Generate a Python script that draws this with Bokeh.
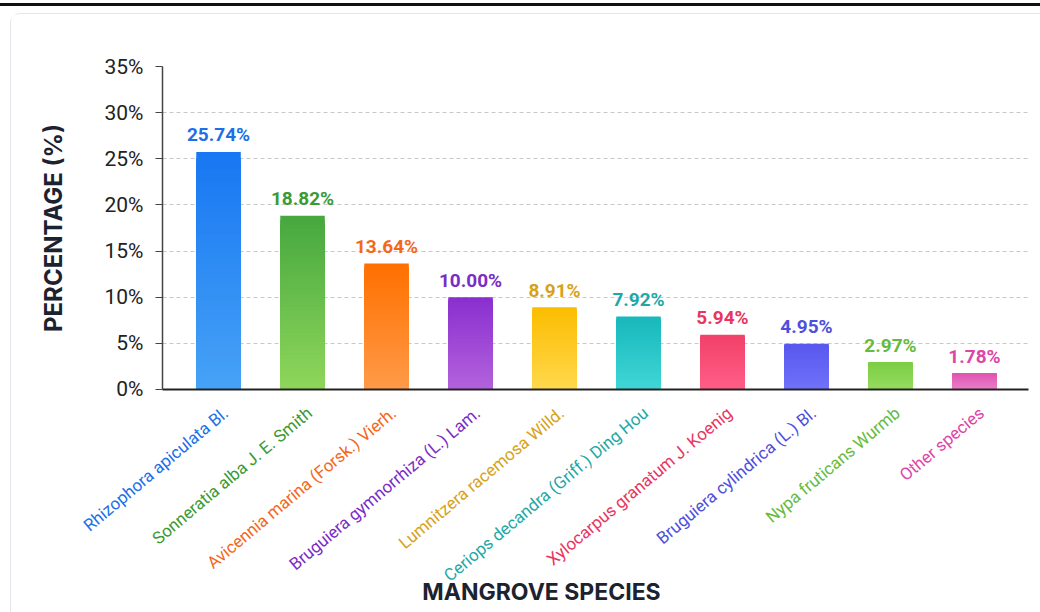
import numpy as np
from bokeh.plotting import figure
from bokeh.layouts import column
from bokeh.models import (ColumnDataSource, Range1d, Div, PrintfTickFormatter,
                          FixedTicker)
from bokeh.core.properties import value
from bokeh.embed import file_html
from bokeh.resources import INLINE

# Mangrove species composition (percentage of individuals)
species = [
    "Rhizophora apiculata Bl.",
    "Sonneratia alba J. E. Smith",
    "Avicennia marina (Forsk.) Vierh.",
    "Bruguiera gymnorrhiza (L.) Lam.",
    "Lumnitzera racemosa Willd.",
    "Ceriops decandra (Griff.) Ding Hou",
    "Xylocarpus granatum J. Koenig",
    "Bruguiera cylindrica (L.) Bl.",
    "Nypa fruticans Wurmb",
    "Other species",
]
percent = [25.74, 18.82, 13.64, 10.00, 8.91, 7.92, 5.94, 4.95, 2.97, 1.78]
y_ticks = [0, 5, 10, 15, 20, 25, 30, 35]

# per-species styling: gradient top colour, gradient bottom colour, text colour
grad_top = ["#1877f2", "#47a83f", "#ff7000", "#8a2fcf", "#fbbd00",
            "#18b8bb", "#f2416a", "#5858ee", "#7ccd45", "#dd55b0"]
grad_bottom = ["#46a2f6", "#8ed65b", "#ff9a48", "#b262dc", "#ffd84d",
               "#40d6d6", "#ff5e86", "#7072fa", "#96db5f", "#ec7ec9"]
text_color = ["#1c6fe8", "#3a9a34", "#f4671c", "#7b2cc7", "#d6a21a",
              "#1fa8a6", "#e8365f", "#4e4fdc", "#66bb3e", "#de46a6"]

# ---- page geometry (pixels) ----
PAGE_W, PAGE_H = 1040, 612
CARD_X, CARD_Y = 10, 13          # card's top-left corner
INNER_X, INNER_Y = CARD_X + 1, CARD_Y + 1
FRAME_L, FRAME_R = 162, 1028     # plot frame edges on the page
FRAME_T, FRAME_B = 66, 389
AXIS_ROOM = 11                   # space kept under the frame for axis + "0%"
TOP_H = FRAME_B - INNER_Y + AXIS_ROOM
BOT_H = PAGE_H - INNER_Y - TOP_H
FIG_W = PAGE_W - INNER_X

# category slots: index positions, with some slack at both ends
pos = np.arange(len(species))
X_LO, X_HI = -0.667, len(species) - 1 + 0.643
PX_PER_UNIT = (FRAME_R - FRAME_L) / (X_HI - X_LO)

top = figure(
    x_range=Range1d(X_LO, X_HI), y_range=Range1d(0, 35),
    width=FIG_W, height=TOP_H,
    output_backend="svg", toolbar_location=None,
    min_border_left=FRAME_L - INNER_X, min_border_right=PAGE_W - FRAME_R,
    min_border_top=FRAME_T - INNER_Y, min_border_bottom=AXIS_ROOM,
)
top.frame_align = False
top.background_fill_color = "white"
top.border_fill_color = "white"
top.outline_line_color = None

# bars: overlapping, progressively shorter bars give a top-to-bottom gradient
N = 40
def lerp_hex(c1, c2, t):
    a = np.array([int(c1[i:i + 2], 16) for i in (1, 3, 5)], dtype=float)
    b = np.array([int(c2[i:i + 2], 16) for i in (1, 3, 5)], dtype=float)
    c = np.round(a + (b - a) * t).astype(int)
    return "#%02x%02x%02x" % tuple(c)

xs, tops, cols = [], [], []
for k in range(N):
    frac = (N - k) / N
    for x, val, ct, cb in zip(pos, percent, grad_top, grad_bottom):
        xs.append(x)
        tops.append(val * frac)
        cols.append(lerp_hex(ct, cb, k / (N - 1)))
bars = ColumnDataSource(dict(x=xs, top=tops, color=cols))
top.vbar(x="x", top="top", bottom=0, width=0.53, source=bars,
         fill_color="color", line_color=None)

src = ColumnDataSource(dict(
    x=pos, y=percent, name=species,
    label=["%.2f%%" % v for v in percent], color=text_color,
))

# value labels above bars
top.text(x="x", y="y", text="label", source=src, text_color="color",
         text_font=value("Roboto"), text_font_size="19px",
         text_font_style="bold", text_align="center",
         text_baseline="alphabetic", y_offset=-17)

# grid
top.xgrid.grid_line_color = None
top.ygrid.ticker = FixedTicker(ticks=y_ticks)
top.ygrid.grid_line_color = "#c8c8c8"
top.ygrid.grid_line_dash = "4 3"
top.ygrid.grid_line_width = 1

# y axis
top.yaxis.ticker = FixedTicker(ticks=y_ticks)
top.yaxis.formatter = PrintfTickFormatter(format="%d%%")
top.yaxis.axis_line_color = "#444444"
top.yaxis.axis_line_width = 1.5
top.yaxis.major_tick_line_color = "#444444"
top.yaxis.major_tick_out = 7
top.yaxis.major_tick_in = 0
top.yaxis.minor_tick_line_color = None
top.yaxis.major_label_text_font = "Roboto"
top.yaxis.major_label_text_font_size = "21px"
top.yaxis.major_label_text_color = "#222222"
top.yaxis.major_label_standoff = 12
top.yaxis.axis_label = "PERCENTAGE (%)"
top.yaxis.axis_label_text_font = "Inter"
top.yaxis.axis_label_text_font_size = "24px"
top.yaxis.axis_label_text_font_style = "bold"
top.yaxis.axis_label_text_color = "#1c2230"
top.yaxis.axis_label_standoff = 34

# x axis: only its line, names are set underneath
top.xaxis.ticker = FixedTicker(ticks=[])
top.xaxis.axis_line_color = "#222222"
top.xaxis.axis_line_width = 2
top.xaxis.major_tick_line_color = None
top.xaxis.minor_tick_line_color = None
top.xaxis.major_label_text_font_size = "0px"
top.xaxis.major_label_standoff = 0

# lower strip: rotated species names and the axis title, same x scale
B_LO = X_LO - (FRAME_L - INNER_X) / PX_PER_UNIT
B_HI = X_HI + (PAGE_W - FRAME_R) / PX_PER_UNIT
bottom = figure(
    x_range=Range1d(B_LO, B_HI), y_range=Range1d(0, BOT_H),
    width=FIG_W, height=BOT_H,
    output_backend="svg", toolbar_location=None,
    x_axis_type=None, y_axis_type=None, min_border=0,
)
bottom.frame_align = False
bottom.background_fill_color = "white"
bottom.border_fill_color = "white"
bottom.outline_line_color = None
bottom.grid.visible = False

# anchor of the names (right end, mid-height), measured from the strip's top
NAME_DROP = 21 - AXIS_ROOM
bottom.text(x="x", y=BOT_H - NAME_DROP, text="name", source=src,
            text_color="color", text_font=value("Roboto"),
            text_font_size="17px", angle=np.deg2rad(40),
            text_align="right", text_baseline="middle", x_offset=7)

TITLE_CX = 541                   # page x of the axis title's centre
TITLE_CY = 591
bottom.text(x=[B_LO + (TITLE_CX - INNER_X) / PX_PER_UNIT],
            y=[PAGE_H - TITLE_CY], text=["MANGROVE SPECIES"],
            text_color="#1c2230", text_font=value("Inter"),
            text_font_size="23px", text_font_style="bold",
            text_align="center", text_baseline="middle")

rule = Div(text="", width=PAGE_W, height=3, margin=(3, 0, 0, 0),
           styles={"background-color": "#111111"})
card = column(top, bottom, spacing=0,
              margin=(CARD_Y - 6, 0, 0, CARD_X),
              styles={"border-left": "1px solid #e3e6ea",
                      "border-top": "1px solid #e3e6ea",
                      "border-top-left-radius": "10px"})
page = column(rule, card, spacing=0, margin=0)

open("out.html", "w").write(file_html(page, INLINE))
